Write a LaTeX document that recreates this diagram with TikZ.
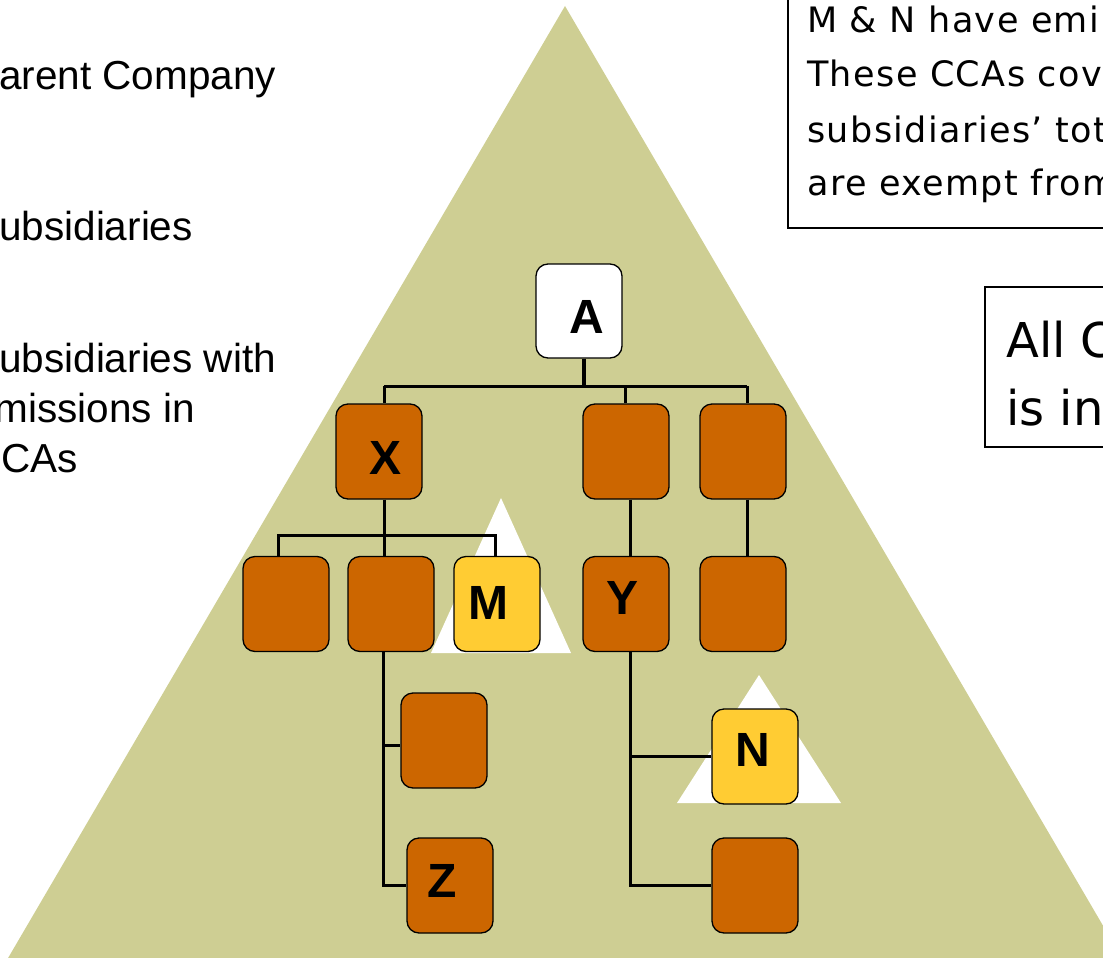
\documentclass[tikz,border=0pt]{standalone}
\usepackage{fontspec}
\setmainfont{Liberation Sans}
\newfontfamily\dvs{DejaVu Sans}
\newfontfamily\dvsw[LetterSpace=4]{DejaVu Sans}
\definecolor{pyrolive}{HTML}{CECE93}
\definecolor{boxorange}{HTML}{CC6600}
\definecolor{boxyellow}{HTML}{FFCC33}
\begin{document}
\begin{tikzpicture}[x=1pt,y=-1pt,
  box/.style={draw=black, line width=1.3pt, rounded corners=12pt, minimum width=86pt, minimum height=95pt, inner sep=0pt, fill=boxorange},
  ybox/.style={box, fill=boxyellow},
  wbox/.style={box, fill=white, minimum height=94pt},
  conn/.style={line width=3pt},
  lbl/.style={font=\bfseries\fontsize{48}{48}\selectfont, inner sep=0pt},
  lefttext/.style={font=\fontsize{40.5}{40}\selectfont, inner sep=0pt, anchor=base west},
  righttext/.style={font=\dvsw\fontsize{35}{35}\selectfont, inner sep=0pt, anchor=base west},
  bigtext/.style={font=\dvs\fontsize{48}{48}\selectfont, inner sep=0pt, anchor=base west},
  frame/.style={draw=black, line width=1.8pt}]
\useasboundingbox (0,0) rectangle (1103,958);
\clip (0,0) rectangle (1103,958);
% big pyramid
\fill[pyrolive] (565,6) -- (1150,1006) -- (-20,1006) -- cycle;
% white small pyramids
\fill[white] (501,498) -- (571,653) -- (431,653) -- cycle;
\fill[white] (759,675) -- (841,803) -- (677,803) -- cycle;
% left texts
\node[lefttext] (t1) at (-28,89) {Parent Company};
\node[lefttext] (t2) at (-28,240) {Subsidiaries};
\node[lefttext] (t3) at (-28,372) {Subsidiaries with};
\node[lefttext] (t4) at (-28,422) {emissions in};
\node[lefttext] (t5) at (-28,472) {CCAs};
% right boxes
\draw[frame] (1130,-10) -- (788,-10) -- (788,228) -- (1130,228);
\node[righttext] (r1) at (807,33) {M \& N have emi};
\node[righttext] (r2) at (807,87) {These CCAs cov};
\node[righttext] (r3) at (807,142) {subsidiaries’ tot};
\node[righttext] (r4) at (807,195) {are exempt from};
\draw[frame] (1130,287) -- (985,287) -- (985,447) -- (1130,447);
\node[bigtext] (s1) at (1006,357) {All C};
\node[bigtext] (s2) at (1006,425) {is in};
% connector helper coordinates
\coordinate (a1) at (584,386);
\coordinate (busL) at (384,386);
\coordinate (b2) at (625,386);
\coordinate (busR) at (747,386);
\coordinate (x1) at (384,535);
\coordinate (xl) at (278,535);
\coordinate (xr) at (495,535);
\coordinate (l2x) at (383,700);
\coordinate (y1) at (630,700);
% boxes
\node[wbox] (A) at (579,311) {};
\node[box] (X) at (379,451.5) {};
\node[box] (B2) at (626,451.5) {};
\node[box] (B3) at (743,451.5) {};
\node[box] (L1) at (286,604) {};
\node[box] (L2) at (391,604) {};
\node[ybox] (M) at (497,604) {};
\node[box] (Y) at (626,604) {};
\node[box] (R5) at (743,604) {};
\node[box] (C1) at (444,740.5) {};
\node[box] (Z) at (450,885.5) {};
\node[ybox] (N) at (755,756.5) {};
\node[box] (D) at (755,885.5) {};
% connectors
\draw[conn, line width=3.4pt] (a1 |- A.south) -- (a1);
\draw[conn] (busL) -- (busR);
\draw[conn] (busL) -- (busL |- X.north);
\draw[conn] (b2) -- (b2 |- B2.north);
\draw[conn] (busR) -- (busR |- B3.north);
\draw[conn] (x1 |- X.south) -- (x1 |- L2.north);
\draw[conn] (xl |- L1.north) -- (xl) -- (xr) -- (xr |- M.north);
\draw[conn] (y1 |- B2.south) -- (y1 |- Y.north);
\draw[conn] (busR |- B3.south) -- (busR |- R5.north);
\draw[conn] (l2x |- L2.south) -- (l2x |- Z.west) -- (Z.west);
\draw[conn] ([yshift=-4.5pt]l2x |- C1.west) -- ([yshift=-4.5pt]C1.west);
\draw[conn] (y1 |- Y.south) -- (y1 |- D.west) -- (D.west);
\draw[conn] (y1 |- N.west) -- (N.west);
% labels
\node[lbl] (lA) at (587,316.5) {A};
\node[lbl] (lX) at (386,458) {X};
\node[lbl] (lM) at (488,602.5) {M};
\node[lbl] (lY) at (622.5,598) {Y};
\node[lbl] (lN) at (753,750) {N};
\node[lbl] (lZ) at (442,880.5) {Z};
\end{tikzpicture}
\end{document}
